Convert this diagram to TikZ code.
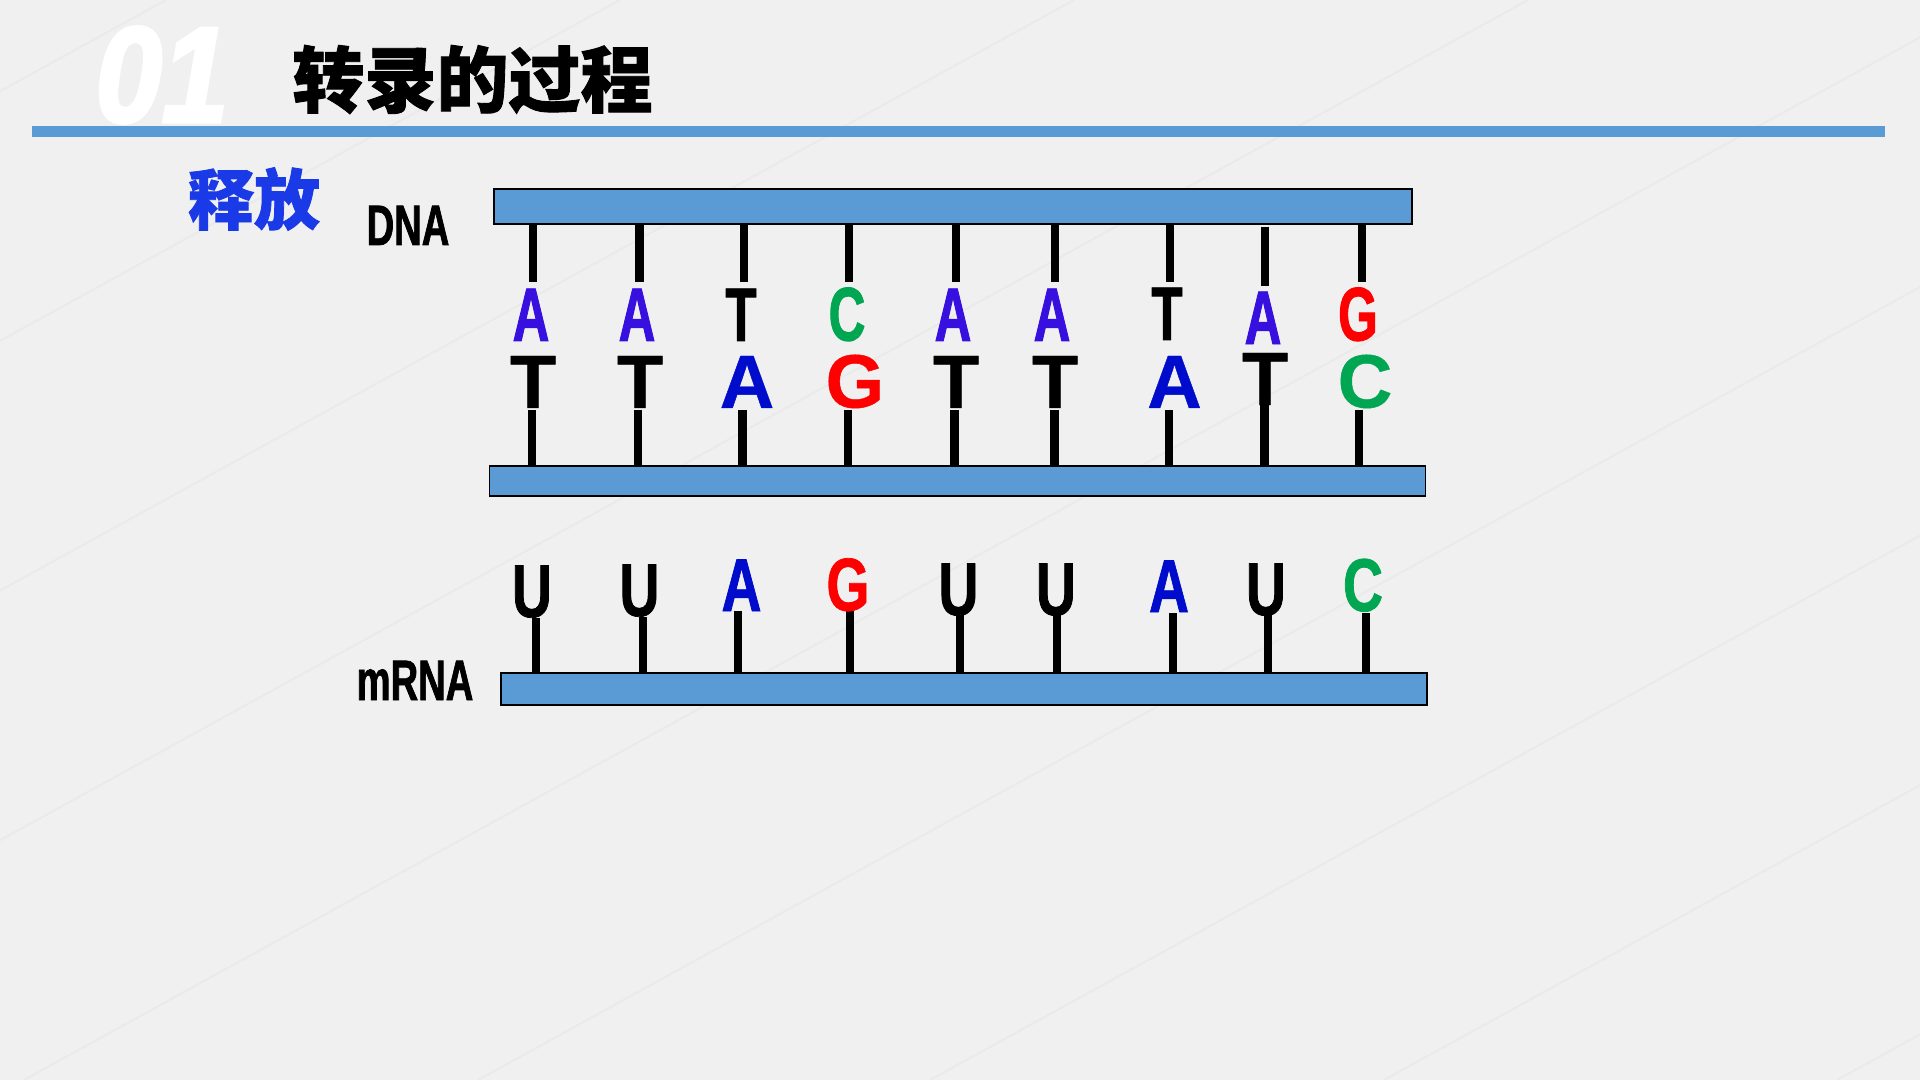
\documentclass[tikz,border=0pt]{standalone}
\usepackage{fontspec}
\setmainfont{Liberation Sans}
\newfontfamily\narrowfont{Liberation Sans}[FakeStretch=0.67,FakeBold=1.2]
\newfontfamily\mfont{Liberation Sans}[FakeStretch=0.74,FakeBold=1.0]
\newfontfamily\lowfont{Liberation Sans}[FakeBold=0.6]
\newfontfamily\numfont{Liberation Sans}[FakeStretch=0.88,FakeBold=2.5]
\newfontfamily\cjk{Noto Sans CJK SC}[FakeBold=1.2]
\definecolor{bg}{RGB}{240,240,240}
\definecolor{streak}{RGB}{234,234,234}
\definecolor{barblue}{RGB}{91,155,213}
\definecolor{vblue}{RGB}{55,15,222}
\definecolor{dblue}{RGB}{0,12,204}
\definecolor{bgreen}{RGB}{0,166,81}
\definecolor{bred}{RGB}{255,0,0}
\definecolor{titleblue}{RGB}{26,58,232}
\tikzset{
  bar/.style={draw=black, line width=0.9pt, fill=barblue, inner sep=0pt, anchor=north west},
  stick/.style={draw=black, line width=4.2pt},
  upbase/.style={anchor=base, inner sep=0pt, font=\narrowfont\bfseries\fontsize{38}{38}\selectfont},
  lowbase/.style={anchor=base, inner sep=0pt, font=\lowfont\bfseries\fontsize{37.8}{37.8}\selectfont},
  rnabase/.style={anchor=base, inner sep=0pt, font=\mfont\bfseries\fontsize{37.4}{37.4}\selectfont},
  label/.style={anchor=base, inner sep=0pt, font=\narrowfont\bfseries\fontsize{28.5}{28.5}\selectfont}
}
\begin{document}
\begin{tikzpicture}[x=0.5pt,y=-0.5pt]
\useasboundingbox (0,0) rectangle (1920,1080);
% background
\fill[bg] (0,0) rectangle (1920,1080);
\begin{scope}
\clip (0,0) rectangle (1920,1080);
\foreach \b in {-1798,-1344,-890,-436,24,478,930,1384,1837}
  \draw[streak, line width=1pt] (\b,1080) -- ++(1964,-1080);
\end{scope}
% header
\node[inner sep=0pt, text=white, font=\numfont\bfseries\itshape\fontsize{68}{68}\selectfont] (num) at (162,75) {01};
\node[inner sep=0pt, font=\cjk\bfseries\fontsize{36}{36}\selectfont] (title) at (472.5,79.5) {转录的过程};
\draw[barblue, line width=5.5pt] (32,131.5) -- (1885,131.5);
\node[inner sep=0pt, text=titleblue, font=\cjk\bfseries\fontsize{33}{33}\selectfont] (release) at (254,199) {释放};
% labels
\node[label] (dnalabel) at (408,245) {DNA};
\node[label] (mrnalabel) at (415,700) {mRNA};
% upper strand sticks
\foreach \sx/\ya/\yb in {533/223/282, 639.5/223/282, 744/223/282, 849/223/282, 956/223/282, 1055/223/282, 1170/223/282, 1265/227/286, 1362/223/282}
  \draw[stick] (\sx,\ya) -- (\sx,\yb);
% lower strand sticks
\foreach \sx/\ya/\yb in {532/410/467, 638/410/467, 742.5/410/467, 848/410/467, 954.5/410/467, 1054.5/410/467, 1169/410/467, 1264.6/405/465, 1359/410/467}
  \draw[stick] (\sx,\ya) -- (\sx,\yb);
% mRNA sticks
\foreach \sx/\ya in {536/618, 643/617, 738/611, 850/611, 960/615, 1057/615, 1173/613, 1268/615, 1366/613}
  \draw[stick] (\sx,\ya) -- (\sx,673);
% bars
\node[bar, minimum width=459pt, minimum height=17.5pt] (topbar) at (493,188) {};
\node[bar, minimum width=468pt, minimum height=15pt] (botbar) at (488.5,465) {};
\node[bar, minimum width=463pt, minimum height=16pt] (rnabar) at (500,672) {};
% upper strand bases
\foreach \i/\x/\y/\l/\c in {1/531/341/A/vblue, 2/637/341/A/vblue, 3/741/341/T/black, 4/847/340.5/C/bgreen, 5/953/341/A/vblue, 6/1052/341/A/vblue, 7/1167/340/T/black, 8/1263/344/A/vblue, 9/1358/340.5/G/bred}
  \node[upbase, text=\c] (u\i) at (\x,\y) {\l};
% lower strand bases
\foreach \i/\x/\y/\l/\c in {1/533/408/T/black, 2/640/408/T/black, 3/747/408/A/dblue, 4/855/407.5/G/bred, 5/956/408/T/black, 6/1055/408/T/black, 7/1174.5/408/A/dblue, 8/1265/405/T/black, 9/1365/407.5/C/bgreen}
  \node[lowbase, text=\c] (d\i) at (\x,\y) {\l};
% mRNA bases
\foreach \i/\x/\y/\l/\c in {1/532/617/U/black, 2/639.5/616/U/black, 3/741.5/611/A/dblue, 4/848/610.5/G/bred, 5/958.5/615/U/black, 6/1056/615/U/black, 7/1169/612/A/dblue, 8/1266/615/U/black, 9/1363/611/C/bgreen}
  \node[rnabase, text=\c] (r\i) at (\x,\y) {\l};
\end{tikzpicture}
\end{document}
